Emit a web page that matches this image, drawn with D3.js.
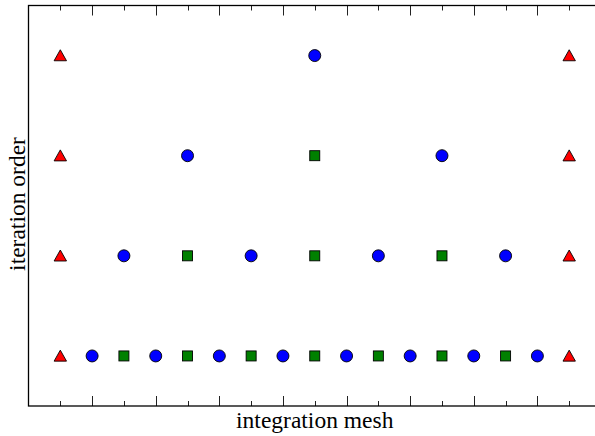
<!DOCTYPE html>
<html lang="en">
<head>
    <meta charset="utf-8" />
    <title>Iteration order vs integration mesh</title>
    <style>
        body {
            margin: 0;
            background: #fff;
        }
        svg text {
            font-family: "Liberation Serif", "Times New Roman", serif;
            fill: #000;
        }
    </style>
</head>
<body>
<svg id="chart"></svg>

<script src="https://cdn.jsdelivr.net/npm/d3@7"></script>
<script>
    // mesh points [x, level] for each marker family
    const trianglePoints = [[0, 0], [16, 0], [0, 1], [16, 1], [0, 2], [16, 2], [0, 3], [16, 3]];
    const circlePoints = [
        [1, 0], [3, 0], [5, 0], [7, 0], [9, 0], [11, 0], [13, 0], [15, 0],
        [2, 1], [6, 1], [10, 1], [14, 1],
        [4, 2], [12, 2],
        [8, 3]
    ];
    const squarePoints = [
        [2, 0], [4, 0], [6, 0], [8, 0], [10, 0], [12, 0], [14, 0],
        [4, 1], [8, 1], [12, 1],
        [8, 2]
    ];
    const xTicks = d3.range(0, 17);   // odd ones are drawn long
    const xLabel = "integration mesh";
    const yLabel = "iteration order";

    const width = 595;
    const height = 436;
    const margin = { left: 28.5, top: 5.5, right: -6, bottom: 30 };

    const svg = d3.select("#chart")
        .attr("width", width)
        .attr("height", height);

    const x = d3.scaleLinear()
        .domain([-1, 17])
        .range([margin.left, width - margin.right]);
    const y = d3.scaleLinear()
        .domain([-0.5, 3.5])
        .range([height - margin.bottom, margin.top]);

    // ticks, pointing inwards on top and bottom
    const tickLen = d => (d % 2 === 1 ? 10 : 5);
    const ticks = svg.append("g").attr("stroke", "#222").attr("stroke-width", 1);
    ticks.selectAll("line.bottom")
        .data(xTicks)
        .enter().append("line")
        .attr("class", "bottom")
        .attr("x1", d => Math.round(x(d)) + 0.5)
        .attr("x2", d => Math.round(x(d)) + 0.5)
        .attr("y1", y(-0.5))
        .attr("y2", d => y(-0.5) - tickLen(d));
    ticks.selectAll("line.top")
        .data(xTicks)
        .enter().append("line")
        .attr("class", "top")
        .attr("x1", d => Math.round(x(d)) + 0.5)
        .attr("x2", d => Math.round(x(d)) + 0.5)
        .attr("y1", y(3.5))
        .attr("y2", d => y(3.5) + tickLen(d));

    // frame
    svg.append("rect")
        .attr("x", x(-1))
        .attr("y", y(3.5))
        .attr("width", x(17) - x(-1))
        .attr("height", y(-0.5) - y(3.5))
        .attr("fill", "none")
        .attr("stroke", "#000")
        .attr("stroke-width", 1.3);

    const marks = svg.append("g")
        .attr("stroke", "#000")
        .attr("stroke-width", 0.9);

    marks.selectAll("path.tri")
        .data(trianglePoints)
        .enter().append("path")
        .attr("class", "tri")
        .attr("d", "M0,-5.8L6.2,5.2L-6.2,5.2Z")
        .attr("transform", d => `translate(${x(d[0])},${y(d[1])})`)
        .attr("fill", "#ff0000");

    marks.selectAll("circle")
        .data(circlePoints)
        .enter().append("circle")
        .attr("cx", d => x(d[0]))
        .attr("cy", d => y(d[1]))
        .attr("r", 6)
        .attr("fill", "#0000ff");

    marks.selectAll("rect")
        .data(squarePoints)
        .enter().append("rect")
        .attr("x", d => x(d[0]) - 5)
        .attr("y", d => y(d[1]) - 5)
        .attr("width", 10)
        .attr("height", 10)
        .attr("fill", "#008000");

    // axis labels
    svg.append("text")
        .attr("x", (x(-1) + x(17)) / 2)
        .attr("y", 428)
        .attr("text-anchor", "middle")
        .attr("font-size", 23.5)
        .text(xLabel);

    svg.append("text")
        .attr("transform", "translate(24.5,204) rotate(-90)")
        .attr("text-anchor", "middle")
        .attr("font-size", 23.5)
        .text(yLabel);
</script>
</body>
</html>
